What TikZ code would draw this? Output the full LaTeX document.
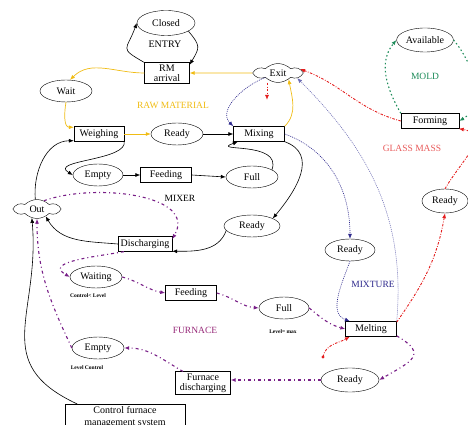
\documentclass[tikz,border=0pt]{standalone}
\usepackage{fontspec}
\setmainfont{Liberation Serif}
\usepackage{tikz}
\usetikzlibrary{calc}
\usetikzlibrary{positioning}
\usetikzlibrary{shapes.geometric}
\usetikzlibrary{shapes.symbols}
\usetikzlibrary{arrows.meta}
\definecolor{rawcol}{RGB}{240,188,20}
\definecolor{mixcol}{RGB}{45,40,140}
\definecolor{mixlight}{RGB}{110,110,180}
\definecolor{glasscol}{RGB}{228,30,30}
\definecolor{glasslbl}{RGB}{232,90,90}
\definecolor{moldcol}{RGB}{30,140,90}
\definecolor{furncol}{RGB}{120,30,135}
\definecolor{furnlbl}{RGB}{150,40,120}
\tikzstyle{statenode} = [draw, ellipse, minimum width=52pt, minimum height=22pt, inner sep=1pt]
\tikzstyle{actnode} = [draw, rectangle, minimum height=15pt, inner sep=2pt, fill=white]
\tikzstyle{cloudnode} = [draw, cloud, cloud puffs=6, cloud puff arc=90, aspect=2.6, inner sep=0pt, minimum width=44pt, minimum height=19pt]
\tikzstyle{arealabel} = [font=\fontsize{9.5}{11}\selectfont]
\tikzstyle{levelnote} = [font=\fontsize{5.5}{6}\selectfont\bfseries]
\tikzstyle{plainflow} = [->, black, line width=0.6pt]
\tikzstyle{rawflow} = [->, rawcol, line width=0.7pt]
\tikzstyle{mixflow} = [->, mixcol, line width=0.6pt, dash pattern=on 1pt off 1pt]
\tikzstyle{glassflow} = [->, glasscol, line width=0.9pt, dash pattern=on 2.5pt off 1.5pt on 0.8pt off 1.5pt]
\tikzstyle{moldflow} = [->, moldcol, line width=1.1pt, dash pattern=on 1.5pt off 2.5pt]
\tikzstyle{furnflow} = [->, furncol, line width=1.1pt, dash pattern=on 3pt off 3pt on 1pt off 3pt]
\begin{document}
\begin{tikzpicture}[x=1pt, y=1pt, >={Latex[length=5pt,width=4pt]}, font=\fontsize{10}{12}\selectfont]
  \useasboundingbox (0,0) rectangle (468,425);

  \node[statenode, minimum width=58pt, minimum height=25pt] (closed) at (166,402) {Closed};
  \node (entry) at (165,381) {ENTRY};
  \node[actnode, align=center, minimum width=45pt] (rm) at (167,352) {RM\\[-2pt]arrival};
  \node[statenode] (wait) at (66,334) {Wait};
  \node[arealabel, rawcol] (rawlbl) at (173,320) {RAW MATERIAL};
  \node[actnode, minimum width=50pt] (weigh) at (99,291) {Weighing};
  \node[statenode] (ready_w) at (177,291) {Ready};
  \node[actnode, minimum width=51pt] (mixing) at (259,291) {Mixing};
  \node[cloudnode, minimum width=46pt] (exit) at (278,352) {Exit};
  \coordinate (exitdrop) at (267,325);

  \node[statenode, minimum height=24pt] (avail) at (425,385) {Available};
  \node[arealabel, moldcol] (moldlbl) at (425,349) {MOLD};
  \node[actnode, minimum width=58pt] (forming) at (430,304) {Forming};
  \node[arealabel, glasslbl] (glasslb) at (412,277) {GLASS MASS};
  \node[statenode, minimum width=46pt, minimum height=24pt] (ready_g) at (445,224) {Ready};

  \node[statenode, minimum width=50pt] (empty_m) at (98,250) {Empty};
  \node[actnode, minimum width=51pt] (feed_m) at (166,250) {Feeding};
  \node[statenode] (full_m) at (252,248) {Full};
  \node[arealabel] (mixerlbl) at (180,227) {MIXER};
  \node[cloudnode] (out) at (37,216) {Out};
  \node[statenode, minimum width=56pt] (ready_m) at (252,199) {Ready};
  \node[actnode, minimum width=54pt] (disch) at (145,181) {Discharging};
  \node[statenode, minimum width=50pt] (ready_x) at (350,175) {Ready};
  \node[arealabel, mixcol] (mixlbl) at (373,141) {MIXTURE};

  \node[statenode] (waiting) at (96,148) {Waiting};
  \node[levelnote] (waitnote) at (88,129) {Control< Level};
  \node[actnode, minimum width=51pt] (feed_f) at (191,132) {Feeding};
  \node[arealabel, furnlbl] (furnlb) at (195,95) {FURNACE};
  \node[statenode, minimum width=50pt] (full_f) at (284,117) {Full};
  \node[levelnote] (fullnote) at (283,93) {Level= max};
  \node[actnode, minimum width=51pt] (melting) at (371,96) {Melting};
  \node[statenode] (empty_f) at (98,77) {Empty};
  \node[levelnote] (emptynote) at (87,57) {Level Control};
  \node[actnode, align=center, minimum width=55pt] (fdisch) at (203,42) {Furnace\\[-2pt]discharging};
  \node[statenode, minimum width=58pt, minimum height=24pt] (ready_f) at (350,45) {Ready};
  \node[actnode, align=center, anchor=north, minimum width=120pt] (control) at (125,21) {Control furnace\\management system};
  \coordinate (dropstart) at (323,68);

  \draw[plainflow] (rm.north west) to[out=150, in=-110, looseness=1.9] (closed.west);
  \draw[plainflow] (closed.-20) to[out=-50, in=60, looseness=1.5] (rm.20);
  \draw[plainflow] (ready_w.east) -- (mixing.west);
  \draw[plainflow] (weigh.-15) .. controls +(5,-20) and +(-25,15) .. (empty_m.west);
  \draw[plainflow] (empty_m.east) -- (feed_m.west);
  \draw[plainflow] (feed_m.east) -- (full_m.west);
  \draw[plainflow] (full_m.20) to[out=70, in=-160, looseness=1.8] (mixing.200);
  \draw[plainflow] (mixing.south east) to[out=-20, in=50, looseness=1.2] (ready_m.20);
  \draw[plainflow] (ready_m.190) to[out=-110, in=0] (disch.-15);
  \draw[plainflow] (disch.west) to[out=175, in=-60] (out.-40);
  \draw[plainflow] (out.100) to[out=95, in=180] (weigh.195);
  \draw[plainflow] (control.165) to[out=155, in=-85, looseness=1.3] (out.-120);

  \draw[rawflow] (rm.west) to[out=180, in=45] (wait.70);
  \draw[rawflow] (wait.south) to[out=-100, in=180] (weigh.165);
  \draw[rawflow] (weigh.east) -- (ready_w.west);
  \draw[rawflow] (mixing.north east) to[out=45, in=-80] (exit.-30);
  \draw[rawflow] (exit.west) -- (rm.east);

  \draw[mixflow] (exit.200) to[out=200, in=135] (mixing.north west);
  \draw[mixflow] (mixing.east) to[out=-20, in=90] (ready_x.north);
  \draw[mixflow] (ready_x.south) to[out=-110, in=160] (melting.160);
  \draw[mixflow, mixlight] (melting.north east) to[out=85, in=-45] (exit.-15);

  \draw[glassflow] (forming.west) to[out=165, in=-20] (exit.10);
  \draw[glassflow] (exit.south -| exitdrop) -- (exitdrop);
  \draw[glassflow] (ready_g.north) to[out=60, in=-10, looseness=1.4] (forming.-15);
  \draw[glassflow] (melting.15) to[out=55, in=-100] (ready_g.south);
  \fill[glasscol] (dropstart) circle (1.6pt);
  \draw[glassflow] (dropstart) to[out=80, in=-150] (melting.200);

  \draw[moldflow] (forming.north west) to[out=120, in=-130] (avail.west);
  \draw[moldflow] (avail.east) to[out=-50, in=30] (forming.east);

  \draw[furnflow] (out.50) to[out=20, in=60] (disch.10);
  \draw[furnflow] (disch.200) to[out=190, in=150, looseness=1.3] (waiting.west);
  \draw[furnflow] (empty_f.west) to[out=115, in=-90] (out.south);
  \draw[furnflow] (waiting.east) to[out=-15, in=170] (feed_f.west);
  \draw[furnflow] (feed_f.east) to[out=-15, in=175] (full_f.west);
  \draw[furnflow] (full_f.east) to[out=-40, in=165] (melting.west);
  \draw[furnflow] (melting.-15) to[out=-30, in=30, looseness=2] (ready_f.east);
  \draw[furnflow] (ready_f.west) -- (fdisch.east |- ready_f.west);
  \draw[furnflow] (fdisch.150) to[out=150, in=0] (empty_f.east);
\end{tikzpicture}
\end{document}
